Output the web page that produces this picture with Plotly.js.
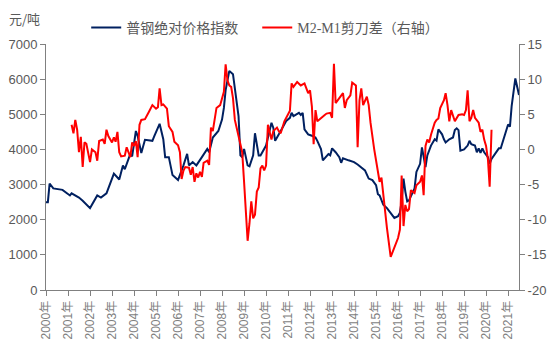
<!DOCTYPE html>
<html>
<head>
<meta charset="utf-8">
<script src="https://cdn.plot.ly/plotly-3.0.1.min.js"></script>
<style>html,body{margin:0;padding:0;background:#fff;}#chart{width:555px;height:349px;}</style>
</head>
<body>
<div id="chart"></div>
<script>
// ---- data ----
const blueName = '普钢绝对价格指数';
const redName = 'M2-M1剪刀差（右轴）';
const unitLabel = '元/吨';

const blueDates = ['2000-01','2000-02','2000-03','2000-05','2000-10','2001-02','2001-03','2001-07','2001-09','2002-01','2002-05','2002-07','2002-10','2003-02','2003-05','2003-07','2003-08','2003-11','2003-12','2004-02','2004-03','2004-05','2004-07','2004-11','2004-12','2005-03','2005-05','2005-06','2005-08','2005-10','2006-01','2006-02','2006-04','2006-06','2006-07','2006-09','2006-11','2007-02','2007-05','2007-06','2007-08','2007-11','2008-01','2008-02','2008-03','2008-05','2008-07','2008-10','2008-11','2008-12','2009-01','2009-03','2009-04','2009-06','2009-07','2009-09','2009-10','2010-01','2010-04','2010-05','2010-06','2010-09','2010-12','2011-02','2011-03','2011-04','2011-07','2011-08','2011-09','2011-10','2011-12','2012-02','2012-04','2012-05','2012-07','2012-08','2012-10','2012-11','2012-12','2013-01','2013-03','2013-05','2013-06','2013-07','2013-10','2014-01','2014-03','2014-05','2014-07','2014-09','2014-11','2015-01','2015-02','2015-03','2015-05','2015-07','2015-09','2015-11','2016-01','2016-02','2016-03','2016-04','2016-05','2016-06','2016-07','2016-09','2016-10','2016-11','2017-01','2017-02','2017-03','2017-04','2017-05','2017-07','2017-09','2017-10','2017-11','2018-01','2018-02','2018-03','2018-05','2018-07','2018-08','2018-09','2018-10','2018-11','2019-01','2019-03','2019-04','2019-05','2019-07','2019-08','2019-09','2019-10','2019-11','2019-12','2020-02','2020-03','2020-04','2020-06','2020-08','2020-09','2020-10','2020-11','2021-01','2021-02','2021-03','2021-05','2021-07'];
const blueValues = [2500,2500,3030,2890,2850,2690,2750,2630,2540,2330,2690,2630,2750,3310,3145,3545,3435,3875,3800,4525,4390,3900,4275,4245,4370,4730,4290,3780,3780,3270,3130,3270,3545,3875,3545,3640,3545,3780,4015,3920,4340,4525,4850,5180,5690,6235,6140,4950,3830,3780,4015,3545,3520,3830,4460,3830,3830,4110,4760,4620,4245,4525,4810,4900,5040,4950,5040,4980,5040,4570,4430,4390,4340,4245,4010,3690,3830,3870,3830,4030,3920,3780,3620,3750,3690,3640,3570,3500,3405,3170,3125,2985,2725,2690,2425,2330,2190,2050,2100,2200,2520,3170,2800,2520,2550,2755,2890,3360,3590,4060,3780,3500,3830,4110,4290,4250,4570,4430,4290,4200,4290,4340,4550,4600,4550,3965,4000,4110,4245,4150,4110,3920,4030,3900,4030,3920,3780,3590,3730,3870,4030,4030,4200,4430,4710,4650,5230,6020,5550];

const redDates = ['2001-03','2001-04','2001-05','2001-06','2001-07','2001-08','2001-09','2001-10','2001-11','2002-01','2002-02','2002-04','2002-05','2002-06','2002-08','2002-09','2002-10','2002-11','2003-01','2003-02','2003-03','2003-04','2003-05','2003-06','2003-08','2003-09','2003-11','2003-12','2004-01','2004-02','2004-03','2004-04','2004-05','2004-07','2004-09','2004-11','2005-01','2005-02','2005-03','2005-04','2005-05','2005-07','2005-08','2005-10','2005-11','2006-01','2006-02','2006-03','2006-04','2006-05','2006-07','2006-08','2006-09','2006-10','2006-11','2006-12','2007-01','2007-02','2007-03','2007-05','2007-06','2007-07','2007-08','2007-09','2007-10','2007-12','2008-01','2008-02','2008-03','2008-04','2008-05','2008-06','2008-07','2008-08','2008-10','2008-12','2009-01','2009-03','2009-04','2009-05','2009-06','2009-07','2009-08','2009-09','2009-10','2009-11','2009-12','2010-01','2010-02','2010-03','2010-04','2010-05','2010-07','2010-08','2010-09','2010-11','2011-01','2011-02','2011-03','2011-04','2011-06','2011-08','2011-10','2011-12','2012-01','2012-02','2012-03','2012-04','2012-05','2012-07','2012-09','2012-10','2012-12','2013-01','2013-02','2013-03','2013-05','2013-07','2013-08','2013-09','2013-11','2013-12','2014-02','2014-03','2014-04','2014-05','2014-06','2014-08','2014-09','2014-10','2014-12','2015-01','2015-03','2015-04','2015-05','2015-06','2015-07','2015-09','2015-11','2016-01','2016-02','2016-03','2016-04','2016-05','2016-06','2016-07','2016-08','2016-10','2016-11','2017-01','2017-02','2017-03','2017-04','2017-05','2017-06','2017-07','2017-09','2017-10','2017-11','2017-12','2018-02','2018-03','2018-04','2018-05','2018-06','2018-07','2018-08','2018-10','2018-12','2019-01','2019-02','2019-03','2019-04','2019-05','2019-06','2019-07','2019-09','2019-10','2019-11','2019-12','2020-01','2020-02','2020-03','2020-04'];
const redValues = [3.5,2.3,4.2,2.8,-0.4,1.8,-2.5,1.0,0.8,-1.8,0,-0.4,-1.6,1.2,1.4,0.8,2.8,1.9,1.0,1.7,1.1,2.5,-0.4,-1.0,-0.9,0.3,-1.1,1.0,0.5,1.2,-1.1,3.5,4.2,4.3,5.3,6.3,5.8,6.0,8.7,6.3,6.4,5.8,3.3,2.5,1.1,0.6,-0.4,-4.2,-3.0,-2.5,-2.6,-3.6,-2.5,-4.6,-3.4,-4.0,-3.2,-3.9,-1.9,-1.6,-2.2,3.1,2.6,4.2,5.9,6.3,7.3,8.2,12.1,9.8,9.1,8.9,7.3,4.2,1.9,-0.4,-4.6,-13.0,-10.5,-7.4,-9.8,-9.3,-6.0,-5.4,-2.7,-2.3,-3.0,-2.3,3.5,2.3,1.4,2.6,3.1,2.6,2.3,4.0,4.9,5.5,9.4,8.9,9.6,9.1,9.4,8.0,8.4,6.1,0.75,5.6,4.0,4.5,4.9,5.1,5.2,4.5,12.2,6.6,7.3,8.0,5.9,7.0,7.7,9.5,9.1,0.3,7.0,8.7,6.3,7.5,6.3,3.8,0.05,-1.6,-4.6,-4.0,-6.5,-8.8,-11.2,-15.3,-14.0,-12.6,-11.4,-3.7,-10.9,-7.9,-8.8,-8.5,-5.8,-6.2,-5.1,-4.6,-3.7,-6.5,0.5,1.4,1.0,2.1,3.8,4.2,4.4,5.9,7.0,8.0,6.3,4.0,5.6,4.9,4.0,4.9,5.0,4.9,5.6,8.4,4.0,4.5,5.6,4.5,3.8,2.5,2.8,1.4,0.5,-1.4,-5.3,2.8];

const years = [2000,2001,2002,2003,2004,2005,2006,2007,2008,2009,2010,2011,2012,2013,2014,2015,2016,2017,2018,2019,2020,2021];
const leftTicks = [0,1000,2000,3000,4000,5000,6000,7000];
const rightTicks = [-20,-15,-10,-5,0,5,10,15];
const rightTickText = ['-20','-15','-10','-5','0','5','10','15'];

// ---- chart ----
const gray = '#595959';
const axisColor = '#808080';
const numFont = {family: 'Liberation Sans, Arial, sans-serif', size: 13, color: gray};
const legendFont = {family: 'Liberation Serif, Noto Sans CJK SC', size: 14, color: gray};

const traces = [
  {x: blueDates, y: blueValues, type: 'scatter', mode: 'lines', name: blueName,
   line: {color: '#002060', width: 2}, yaxis: 'y', legend: 'legend'},
  {x: redDates, y: redValues, type: 'scatter', mode: 'lines', name: redName,
   line: {color: '#FF0000', width: 2}, yaxis: 'y2', legend: 'legend2'}
];

const layout = {
  width: 555, height: 349,
  margin: {l: 46, r: 36, t: 40, b: 59},
  paper_bgcolor: '#fff', plot_bgcolor: '#fff',
  showlegend: true,
  legend: {orientation: 'h', x: 0.085, xanchor: 'left', y: 1.065, yanchor: 'middle',
    font: legendFont, itemwidth: 30, bgcolor: 'rgba(0,0,0,0)'},
  legend2: {orientation: 'h', x: 0.4466, xanchor: 'left', y: 1.065, yanchor: 'middle',
    font: legendFont, itemwidth: 30, bgcolor: 'rgba(0,0,0,0)'},
  xaxis: {type: 'date', range: ['2000-01-01', '2021-07-01'],
    tickvals: years.map(y => y + '-01-01'), ticktext: years.map(y => y + '年'),
    tickangle: -90, tickfont: {family: 'Liberation Sans, Noto Sans CJK SC', size: 12, color: '#7f7f7f'},
    showline: true, linecolor: axisColor, linewidth: 1, ticks: 'outside', ticklen: 5,
    tickcolor: axisColor, showgrid: false, zeroline: false},
  yaxis: {range: [0, 7000], tickvals: leftTicks, showline: true, linecolor: axisColor,
    linewidth: 1, ticks: 'outside', ticklen: 5, tickcolor: axisColor, showgrid: false,
    zeroline: false, tickfont: numFont},
  yaxis2: {range: [-20, 15], overlaying: 'y', side: 'right', tickvals: rightTicks,
    ticktext: rightTickText, showline: true, linecolor: axisColor, linewidth: 1,
    ticks: 'outside', ticklen: 5, tickcolor: axisColor, showgrid: false, zeroline: false,
    tickfont: numFont},
  annotations: [{text: unitLabel, xref: 'paper', yref: 'paper', x: -0.082, y: 1.104,
    xanchor: 'left', yanchor: 'middle', showarrow: false,
    font: {family: 'Noto Sans CJK SC', size: 13, color: gray}}]
};

Plotly.newPlot('chart', traces, layout, {displayModeBar: false, staticPlot: true});
</script>
</body>
</html>
